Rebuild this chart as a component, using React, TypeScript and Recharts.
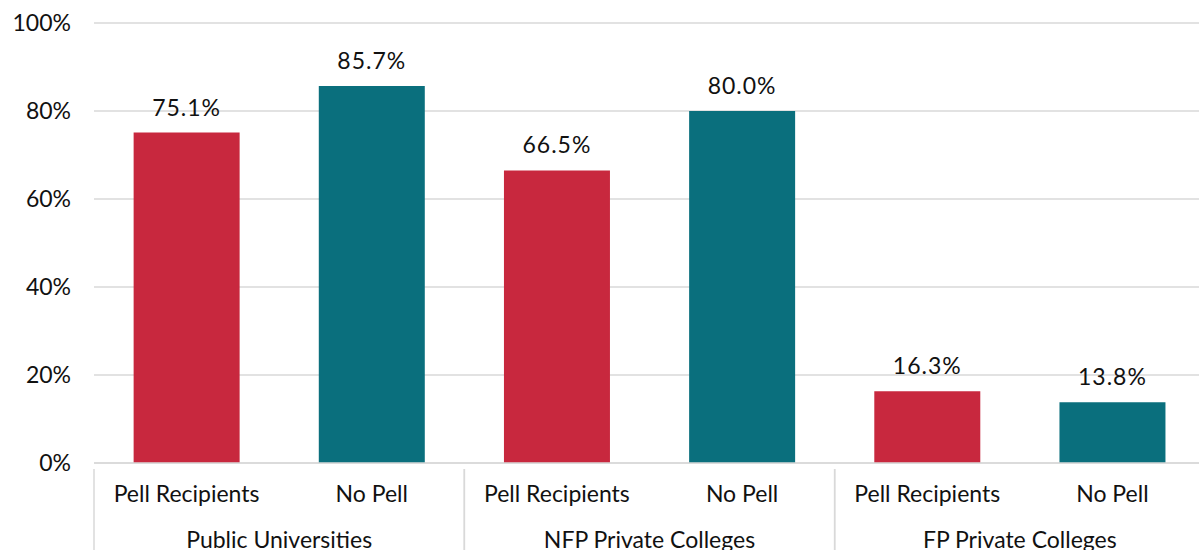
import React from "react";
import { BarChart, Bar, XAxis, YAxis, CartesianGrid, LabelList, Cell } from "recharts";

const groups = ["Public Universities", "NFP Private Colleges", "FP Private Colleges"];
const subs = ["Pell Recipients", "No Pell"];
const pellValues = [75.1, 66.5, 16.3];
const noPellValues = [85.7, 80.0, 13.8];
const yTicks = [0, 20, 40, 60, 80, 100];
const colors = ["#C8283E", "#0A6F7D"];

const rows = groups.flatMap((g, i) => [
	{ group: g, sub: subs[0], value: pellValues[i], kind: 0 },
	{ group: g, sub: subs[1], value: noPellValues[i], kind: 1 },
]);

const FONT = "Lato, 'Open Sans', sans-serif";
const W = 1199;
const H = 550;
const LEFT = 94;
const GRID = "#d9d9d9";

function GroupTick(props: any) {
	const { x, y, payload } = props;
	const half = payload && payload.offset ? payload.offset : (W + 6 - LEFT) / 6;
	return (
		<g>
			<line x1={x - half} y1={y - 48} x2={x - half} y2={H} stroke={GRID} strokeWidth={1.5} />
			<line x1={x + half} y1={y - 48} x2={x + half} y2={H} stroke={GRID} strokeWidth={1.5} />
			<text x={x} y={y + 31} textAnchor="middle" fontSize={23} fill="#111" fontFamily={FONT}>
				{payload.value}
			</text>
		</g>
	);
}

export default function App() {
	return (
		<div style={{ position: "absolute", left: 0, top: 0, width: W, height: H, overflow: "hidden", background: "#fff" }}>
			<BarChart width={W} height={H} data={rows} margin={{ top: 23, right: -6, left: 0, bottom: 0 }} barCategoryGap="21.4%">
				<CartesianGrid vertical={false} stroke={GRID} strokeWidth={1.5} />
				<YAxis
					domain={[0, 100]}
					ticks={yTicks}
					width={LEFT}
					axisLine={false}
					tickLine={false}
					tickSize={0}
					tickMargin={23}
					tickFormatter={(v: number) => `${v}%`}
					tick={{ fontSize: 23, fill: "#111", fontFamily: FONT }}
				/>
				<XAxis
					dataKey="sub"
					height={46}
					axisLine={{ stroke: GRID, strokeWidth: 1.5 }}
					tickLine={false}
					interval={0}
					tick={{ fontSize: 23, fill: "#111", fontFamily: FONT }}
					tickMargin={17}
				/>
				<XAxis
					dataKey="group"
					xAxisId="group"
					allowDuplicatedCategory={false}
					height={41}
					axisLine={false}
					tickLine={false}
					interval={0}
					tick={<GroupTick />}
				/>
				<Bar dataKey="value" isAnimationActive={false}>
					{rows.map((r, i) => (
						<Cell key={i} fill={colors[r.kind]} />
					))}
					<LabelList
						dataKey="value"
						position="top"
						offset={17}
						formatter={(v: number) => `${v.toFixed(1)}%`}
						style={{ fontSize: 23, fill: "#111", fontFamily: FONT, letterSpacing: 1 }}
					/>
				</Bar>
			</BarChart>
		</div>
	);
}
